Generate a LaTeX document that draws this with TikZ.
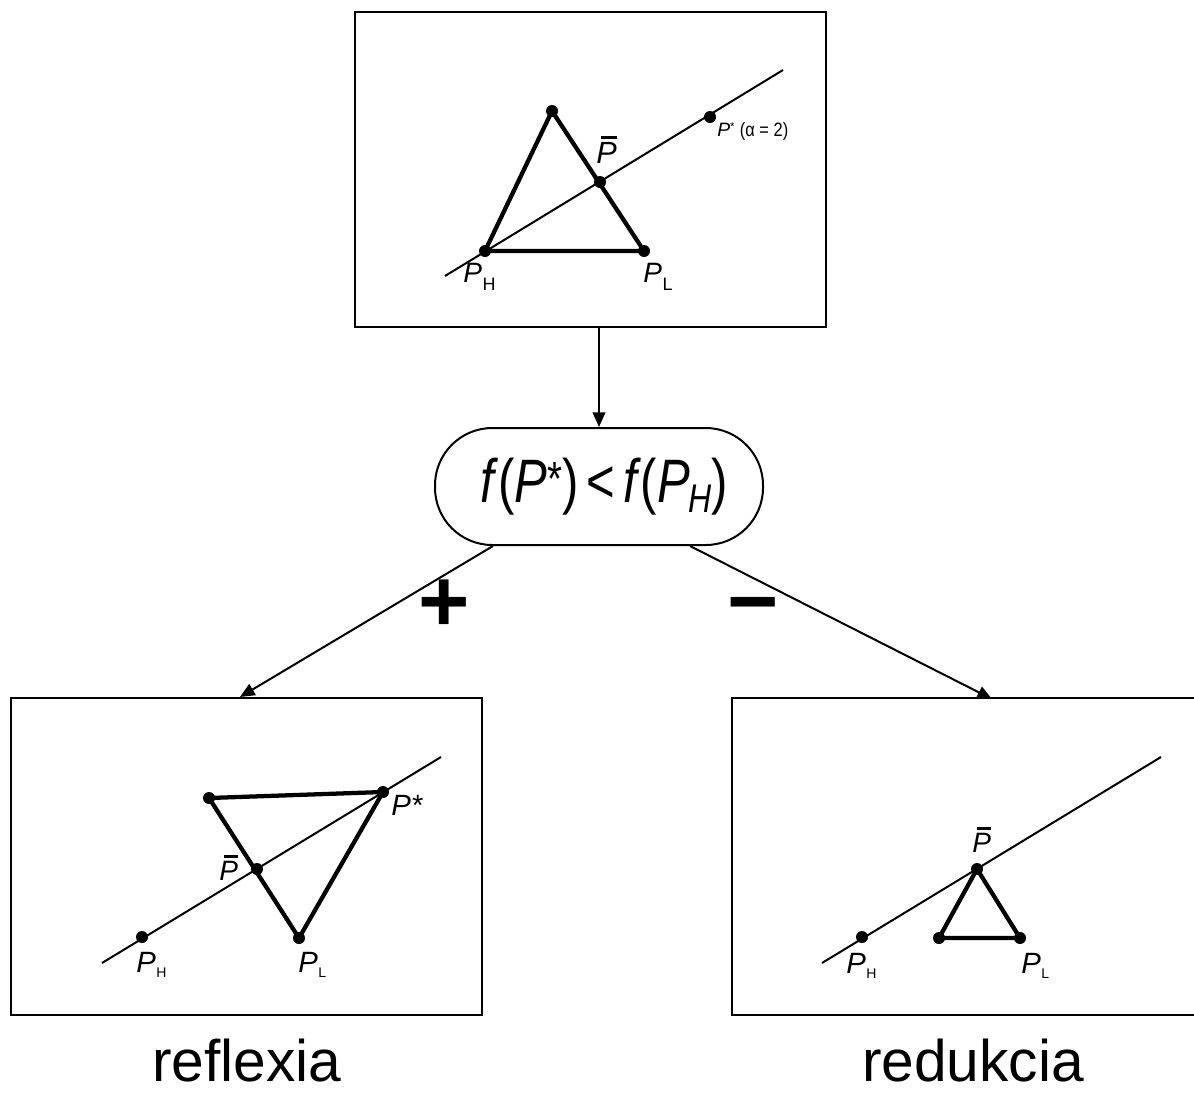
\documentclass[tikz,border=0pt]{standalone}
\usepackage{fontspec}
\setmainfont{Liberation Sans}
\usepackage{graphicx}
\usetikzlibrary{arrows.meta,calc}
\newcommand\subP[3]{\textit{P}\kern0.02em\raisebox{-#2}{\fontsize{#3}{#3}\selectfont #1}}
\newcommand\barP{\makebox[0pt][l]{\kern0.16em\rule[0.78em]{0.5em}{0.1em}}\textit{P}}
\begin{document}
\begin{tikzpicture}[x=0.75pt,y=-0.75pt,
  frame/.style={draw,line width=1.5pt,minimum width=353.25pt,inner sep=0},
  vtx/.style={circle,fill=black,inner sep=0,minimum size=9pt},
  ray/.style={line width=1.5pt},
  tri/.style={line width=3.2pt,line join=round},
  arr/.style={line width=1.5pt,-{Triangle[length=11pt,width=9.5pt]}},
  lab/.style={anchor=base west,inner sep=0,font=\fontsize{21pt}{21pt}\selectfont},
  labb/.style={anchor=base west,inner sep=0,font=\fontsize{22pt}{22pt}\selectfont},
  big/.style={font=\fontsize{44pt}{44pt}\selectfont,anchor=base,inner sep=0},
  sign/.style={font=\fontsize{66pt}{66pt}\selectfont\bfseries,inner sep=0}]
\useasboundingbox (0,0) rectangle (1194,1093);
\clip (0,0) rectangle (1194,1093);

% frames
\node[frame,minimum height=236.25pt] (boxT) at (590.5,169.5) {};
\node[frame,minimum height=237.75pt] (boxL) at (246.5,856.5) {};
\node[frame,minimum height=237.75pt] (boxR) at (967.5,856.5) {};
\node[draw,line width=1.5pt,rounded corners=43pt,minimum width=246pt,minimum height=87.75pt,inner sep=0] (test) at (599,486.5) {};
\node[inner sep=0] (formula) at (604,486.5)
 {\scalebox{0.8}[1]{\fontsize{46pt}{46pt}\selectfont\itshape f\textup{(}P\raisebox{0.12em}{\fontsize{36pt}{36pt}\selectfont\textup{*}}\textup{)}\kern0.16em\textup{<}\kern0.16em f\textup{(}P\kern-0.04em\raisebox{-0.16em}{\fontsize{30pt}{30pt}\selectfont H}\textup{)}}};

% connectors
\draw[arr] (boxT.south -| test.north) -- (test.north);
\draw[arr] ($(test.south)+(-106,0)$) -- ($(boxL.north)+(-6.5,0)$);
\draw[arr] ($(test.south)+(91,0)$) -- ($(boxR.north)+(24.5,2)$);
\node[sign] (plus) at (444,606) {+};
\node[sign] (minus) at (753,614) {−};

% top panel
\coordinate (ta) at (445,276);
\coordinate (tb) at (783,70);
\node[vtx] (tA) at (552,111) {};
\node[vtx] (tH) at (485,251) {};
\node[vtx] (tL) at (644,251) {};
\node[vtx] (tM) at (600,182) {};
\node[vtx] (tS) at (710,117) {};
\draw[ray] (ta) -- (tb);
\draw[tri] (tA.center) -- (tH.center) -- (tL.center) -- cycle;
\node[lab] (ltH) at (463,282) {\subP{H}{0.3em}{13.5pt}};
\node[lab] (ltL) at (643,282) {\subP{L}{0.3em}{13.5pt}};
\node[lab,font=\fontsize{23pt}{23pt}\selectfont] (ltM) at (596,163) {\barP};
\node[lab,font=\fontsize{14.5pt}{14.5pt}\selectfont] (ltS) at (717,136) {\textit{P}\raisebox{0.3em}{\fontsize{8.5pt}{8.5pt}\selectfont *}\ \scalebox{0.85}[1]{(α = 2)}};

% left panel
\coordinate (la) at (102,963);
\coordinate (lb) at (441,757);
\node[vtx] (lH) at (142,937) {};
\node[vtx] (lM) at (257,869) {};
\node[vtx] (lS) at (383,792) {};
\node[vtx] (lU) at (209,798) {};
\node[vtx] (lL) at (299,938) {};
\draw[ray] (la) -- (lb);
\draw[tri] (lU.center) -- (lS.center) -- (lL.center) -- cycle;
\node[labb] (llS) at (391,815) {\textit{P*}};
\node[lab] (llM) at (219,880) {\barP};
\node[labb] (llH) at (136,972) {\subP{H}{0.2em}{10.5pt}};
\node[labb] (llL) at (298,972) {\subP{L}{0.2em}{10.5pt}};

% right panel
\coordinate (ra) at (822,963);
\coordinate (rb) at (1161,757);
\node[vtx] (rH) at (862,937) {};
\node[vtx] (rM) at (977,869) {};
\node[vtx] (rU) at (939,938) {};
\node[vtx] (rL) at (1020,938) {};
\draw[ray] (ra) -- (rb);
\draw[tri] (rM.center) -- (rU.center) -- (rL.center) -- cycle;
\node[lab] (lrM) at (972,852) {\barP};
\node[labb] (lrH) at (846,973) {\subP{H}{0.2em}{10.5pt}};
\node[labb] (lrL) at (1021,973) {\subP{L}{0.2em}{10.5pt}};

% captions
\node[big] (capL) at (247,1081) {reflexia};
\node[big] (capR) at (973,1081) {redukcia};
\end{tikzpicture}
\end{document}
